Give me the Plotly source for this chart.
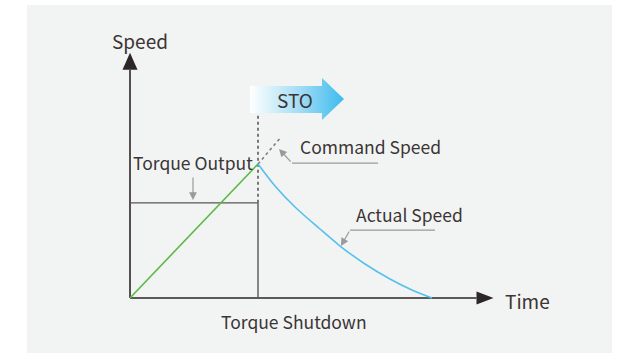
import plotly.graph_objects as go

# data units: time 1.0 = torque shutdown, speed 1.0 = speed at shutdown
t_shutdown = 1.0
torque_level = 0.71

t_accel = [0.0, 1.0]
v_accel = [0.0, 1.0]

t_cmd = [1.0, 1.17]
v_cmd = [1.0, 1.19]

t_actual = [1.0, 1.133, 1.289, 1.484, 1.641, 1.836, 2.031, 2.203, 2.359]
v_actual = [1.0, 0.836, 0.679, 0.515, 0.388, 0.254, 0.142, 0.06, 0.0]

t_axis_end = 2.84
v_axis_end = 1.83
v_sto_top = 1.42

# pixel scale of the drawing (used for arrow head sizes)
PX_T = 128.0
PX_V = 134.0

FONT = "Noto Sans CJK SC"
TXT = "#3b3535"
AXIS = "#2d2626"
GREY = "#9a9a9a"

fig = go.Figure()

# axes
head_len_y = 17 / PX_V
head_w_y = 7.5 / PX_T
fig.add_trace(go.Scatter(x=[0, 0], y=[0, v_axis_end - head_len_y], mode="lines",
                         line=dict(color=AXIS, width=1.6), hoverinfo="skip"))
fig.add_trace(go.Scatter(x=[-head_w_y, head_w_y, 0, -head_w_y],
                         y=[v_axis_end - head_len_y, v_axis_end - head_len_y, v_axis_end, v_axis_end - head_len_y],
                         mode="lines", fill="toself", fillcolor=AXIS, line=dict(color=AXIS, width=0),
                         hoverinfo="skip"))
head_len_x = 17 / PX_T
head_w_x = 6.5 / PX_V
fig.add_trace(go.Scatter(x=[0, t_axis_end - head_len_x], y=[0, 0], mode="lines",
                         line=dict(color=AXIS, width=1.6), hoverinfo="skip"))
fig.add_trace(go.Scatter(x=[t_axis_end - head_len_x, t_axis_end - head_len_x, t_axis_end, t_axis_end - head_len_x],
                         y=[-head_w_x, head_w_x, 0, -head_w_x],
                         mode="lines", fill="toself", fillcolor=AXIS, line=dict(color=AXIS, width=0),
                         hoverinfo="skip"))

# torque output box
fig.add_trace(go.Scatter(x=[0, t_shutdown, t_shutdown], y=[torque_level, torque_level, 0], mode="lines",
                         line=dict(color="#5a5555", width=1.4), hoverinfo="skip"))
# STO dotted marker
fig.add_trace(go.Scatter(x=[t_shutdown, t_shutdown], y=[torque_level, v_sto_top], mode="lines",
                         line=dict(color="#777777", width=2, dash="dot"), hoverinfo="skip"))

# speed curves
fig.add_trace(go.Scatter(x=t_accel, y=v_accel, mode="lines",
                         line=dict(color="#5cb947", width=1.6), hoverinfo="skip"))
fig.add_trace(go.Scatter(x=t_cmd, y=v_cmd, mode="lines",
                         line=dict(color="#7a7a7a", width=1.5, dash="3px,3px"), hoverinfo="skip"))
fig.add_trace(go.Scatter(x=t_actual, y=v_actual, mode="lines", line_shape="spline",
                         line=dict(color="#55c0ee", width=1.6, smoothing=0.8), hoverinfo="skip"))

# STO arrow with gradient
sto_x0, sto_x1, sto_x2 = 0.9375, 1.5, 1.672
sto_b0, sto_b1 = 1.381, 1.582
sto_h0, sto_h1, sto_tip = 1.328, 1.642, 1.485
fig.add_trace(go.Scatter(
    x=[sto_x0, sto_x1, sto_x1, sto_x2, sto_x1, sto_x1, sto_x0, sto_x0],
    y=[sto_b0, sto_b0, sto_h0, sto_tip, sto_h1, sto_b1, sto_b1, sto_b0],
    mode="lines", fill="toself", line=dict(width=0, color="rgba(0,0,0,0)"),
    fillgradient=dict(type="horizontal",
                      colorscale=[[0, "#ffffff"], [0.5, "#a8def5"], [1, "#3dbbee"]]),
    hoverinfo="skip"))

# callout leader lines
cmd_line_t = [1.9375, 1.266]
cmd_line_v = [1.007, 1.007]
act_line_t = [2.383, 1.719]
act_line_v = [0.507, 0.507]
fig.add_trace(go.Scatter(x=cmd_line_t, y=cmd_line_v, mode="lines",
                         line=dict(color=GREY, width=1.2), hoverinfo="skip"))
fig.add_trace(go.Scatter(x=act_line_t, y=act_line_v, mode="lines",
                         line=dict(color=GREY, width=1.2), hoverinfo="skip"))

arrows = [
    (1.164, 1.112, 1.266, 1.007),   # command speed
    (1.648, 0.388, 1.719, 0.507),   # actual speed
    (0.492, 0.731, 0.492, 0.910),   # torque output
]
for x, y, ax, ay in arrows:
    fig.add_annotation(x=x, y=y, ax=ax, ay=ay, xref="x", yref="y", axref="x", ayref="y",
                       text="", showarrow=True, arrowhead=2, arrowsize=1.3, arrowwidth=1.2,
                       arrowcolor=GREY)

labels = [
    ("Speed", 0.078, 1.925, "center", 19),
    ("Time", 2.914, -0.015, "left", 19),
    ("STO", 1.289, 1.478, "center", 19),
    ("Torque Output", 0.496, 1.01, "center", 17.5),
    ("Command Speed", 1.3125, 1.13, "left", 17.5),
    ("Actual Speed", 1.75, 0.625, "left", 17.5),
    ("Torque Shutdown", 1.28, -0.172, "center", 17.5),
]
for text, x, y, anchor, size in labels:
    fig.add_annotation(x=x, y=y, xref="x", yref="y", text=text, showarrow=False,
                       xanchor=anchor, yanchor="middle",
                       font=dict(family=FONT, size=size, color=TXT))

# grey panel
fig.add_shape(type="rect", xref="paper", yref="paper", x0=27 / 619, x1=612 / 619,
              y0=(356 - 353) / 356, y1=(356 - 5) / 356,
              fillcolor="#f2f4f3", line_width=0, layer="below")

fig.update_layout(
    width=619, height=356,
    margin=dict(l=0, r=0, t=0, b=0),
    paper_bgcolor="white", plot_bgcolor="rgba(0,0,0,0)",
    showlegend=False,
    xaxis=dict(range=[-130 / PX_T, (619 - 130) / PX_T], visible=False, fixedrange=True),
    yaxis=dict(range=[(298 - 356) / PX_V, 298 / PX_V], visible=False, fixedrange=True),
)

fig.write_html("out.html", config={"displayModeBar": False},
               post_script="document.body.style.margin='0';")
